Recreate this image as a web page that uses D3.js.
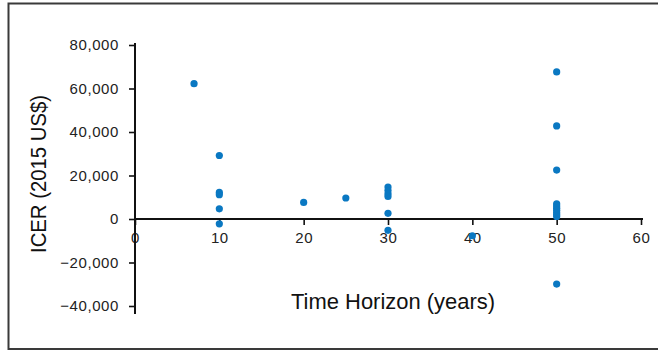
<!DOCTYPE html>
<html>
<head>
<meta charset="utf-8">
<script src="https://d3js.org/d3.v7.min.js"></script>
<style>
  body { margin: 0; background: #fff; }
  svg { display: block; }
</style>
</head>
<body>
<div id="chart"></div>
<script>
// time horizon (years) and ICER (2015 US$)
var years = [7, 10, 10, 10, 10, 10, 20, 25, 30, 30, 30, 30, 30, 30, 40,
             50, 50, 50, 50, 50, 50, 50, 50, 50, 50, 50];
var icer = [62200, 29200, 12200, 11200, 4700, -2200, 7600, 9650,
            14700, 13100, 11600, 10400, 2600, -5200, -7700,
            67600, 42800, 22500, 7000, 6000, 5000, 4000, 3000, 2000, 1200, -29900];
var xTicks = [0, 10, 20, 30, 40, 50, 60];
var yTicks = [-40000, -20000, 0, 20000, 40000, 60000, 80000];

var width = 658, height = 351;

var svg = d3.select("#chart").append("svg")
  .attr("width", width)
  .attr("height", height);

// frame
svg.append("rect")
  .attr("x", 8.5).attr("y", 3.5)
  .attr("width", 660).attr("height", 345.5)
  .attr("fill", "none")
  .attr("stroke", "#3a3a3a")
  .attr("stroke-width", 2);

var x = d3.scaleLinear().domain([0, 60]).range([135, 641]);
var y = d3.scaleLinear().domain([-40000, 80000]).range([306, 45]);

// x axis on the zero line
var xAxis = svg.append("g")
  .attr("transform", "translate(0," + y(0) + ")")
  .call(d3.axisBottom(x).tickValues(xTicks).tickSize(6).tickPadding(4).tickSizeOuter(0));

// y axis
var yAxis = svg.append("g")
  .attr("transform", "translate(" + x(0) + ",0)")
  .call(d3.axisLeft(y).tickValues(yTicks).tickSize(6).tickPadding(10)
    .tickFormat(function(d) { return d3.format(",")(d).replace("-", "\u2212"); })
    .tickSizeOuter(0));

[xAxis, yAxis].forEach(function(g) {
  g.select(".domain").attr("stroke", "#111").attr("stroke-width", 2);
  g.selectAll(".tick line").attr("stroke", "#111").attr("stroke-width", 1.6);
  g.selectAll(".tick text")
    .attr("fill", "#222")
    .style("font-family", "'Liberation Sans', Arial, sans-serif")
    .style("font-size", "15px")
    .style("letter-spacing", "0.6px");
});
yAxis.select(".domain").attr("d", "M0," + (y(80000) - 2) + "V" + (y(-40000) + 8));
xAxis.select(".domain").attr("d", "M" + x(0) + ",0H" + (x(60) + 2));
xAxis.selectAll(".tick text").attr("dy", "0.95em");

// points
svg.append("g").selectAll("circle")
  .data(years)
  .enter().append("circle")
  .attr("cx", function(d) { return x(d); })
  .attr("cy", function(d, i) { return y(icer[i]); })
  .attr("r", 3.6)
  .attr("fill", "#0a78c2");

// axis titles (condensed look via textLength)
svg.append("text")
  .attr("x", 393).attr("y", 309)
  .attr("text-anchor", "middle")
  .attr("textLength", 204)
  .attr("lengthAdjust", "spacingAndGlyphs")
  .style("font-family", "'Liberation Sans', Arial, sans-serif")
  .style("font-size", "22px")
  .attr("fill", "#111")
  .text("Time Horizon (years)");

svg.append("text")
  .attr("transform", "translate(46,174) rotate(-90)")
  .attr("text-anchor", "middle")
  .attr("textLength", 158)
  .attr("lengthAdjust", "spacingAndGlyphs")
  .style("font-family", "'Liberation Sans', Arial, sans-serif")
  .style("font-size", "22px")
  .attr("fill", "#111")
  .text("ICER (2015 US$)");
</script>
</body>
</html>
